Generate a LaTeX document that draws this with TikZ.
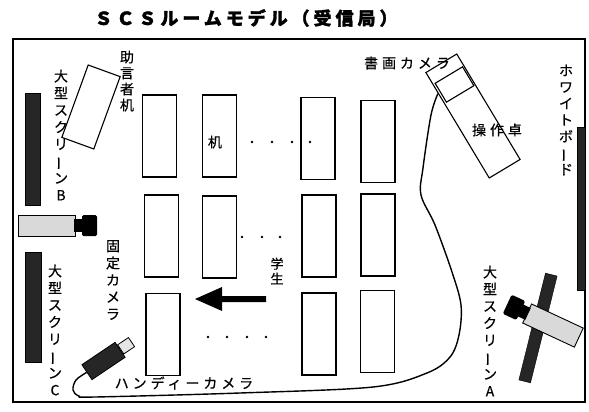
\documentclass[tikz,border=0pt]{standalone}
\usepackage{graphicx}
\usepackage{fontspec}
\setmainfont[FakeBold=0.6]{Noto Sans CJK JP}
\newfontfamily\jpwide[LetterSpace=28, FakeBold=0.6]{Noto Sans CJK JP}
\newfontfamily\jptitle[LetterSpace=22, FakeBold=1.5]{Noto Sans CJK JP}
\usetikzlibrary{calc}
% long vowel mark set upright in vertical text
\newcommand\tatebar{\rotatebox[origin=c]{90}{ー}}
\begin{document}
\begin{tikzpicture}[x=1pt,y=-1pt,
  roomframe/.style={draw, line width=1.5pt},
  desk/.style={draw, line width=1.1pt, minimum width=34pt, minimum height=82pt, inner sep=0pt},
  screenbar/.style={fill=black!85, draw=black, inner sep=0pt},
  vlabel/.style={align=center, inner sep=0pt, font=\fontsize{14}{17}\selectfont},
  hlabel/.style={inner sep=0pt, font=\jpwide\fontsize{14}{17}\selectfont},
  seatdot/.style={circle, fill=black, inner sep=0pt, minimum size=2.8pt},
  cable/.style={draw, line width=1.4pt, line join=round},
  camera/.pic={
    \draw[fill=black!15, line width=0.9pt] (0,-10.5) rectangle (57,10.5);
    \fill (56,-6.5) rectangle (65,6.5);
    \fill[rounded corners=1.5pt] (64,-10.5) rectangle (79,10.5);
  }]
\useasboundingbox (0,0) rectangle (589,412);

% title
\node[inner sep=0pt, font=\jptitle\bfseries\fontsize{18}{20}\selectfont] (title) at (246,18) {ＳＣＳルームモデル（受信局）};

% room outline
\draw[roomframe] (13,39) rectangle (585,402);

% screens and whiteboard
\node[screenbar, minimum width=15pt, minimum height=112pt] (scrB) at (32.5,149) {};
\node[screenbar, minimum width=16pt, minimum height=110pt] (scrC) at (33,307) {};
\node[screenbar, minimum width=8pt, minimum height=163pt] (wboard) at (581,208.5) {};
\node[screenbar, minimum width=12pt, minimum height=110pt, rotate=-14] (scrA) at (538,328) {};

% cameras
\pic at (18,225.5) {camera};
\pic[rotate=155] at (578.8,337.6) {camera};
\node[draw, fill=black!85, line width=0.8pt, minimum width=40pt, minimum height=18pt, inner sep=0pt, rotate=34] (hcam) at (103.5,361) {};
\node[draw, fill=black!10, line width=0.8pt, minimum width=13pt, minimum height=11pt, inner sep=0pt, rotate=34, anchor=west] (hlens) at (hcam.east) {};

% advisor desk and control desk
\node[desk, minimum width=34pt, minimum height=77pt, rotate=-20] (adv) at (91,107) {};
\node[desk, minimum width=36pt, minimum height=123pt, rotate=31] (ctrl) at (473,116) {};
\node[draw, line width=1.1pt, minimum width=32pt, minimum height=22pt, inner sep=0pt, rotate=31] (doccam) at (454.5,84.5) {};

% student desks
\node[desk] (d11) at (159.5,136) {};
\node[desk] (d12) at (219.5,136) {};
\node[desk] (d13) at (318,138.5) {};
\node[desk] (d14) at (378,141.5) {};
\node[desk] (d21) at (161.5,236) {};
\node[desk] (d22) at (219.5,237) {};
\node[desk] (d23) at (319,236) {};
\node[desk] (d24) at (378,235) {};
\node[desk] (d31) at (163,334.5) {};
\node[desk] (d33) at (319,334) {};
\node[desk] (d34) at (377.5,331.5) {};

% continuation dots
\foreach \x [count=\i] in {252,272,292,310} \node[seatdot] (ra\i) at (\x,142) {};
\foreach \x [count=\i] in {242,262,280} \node[seatdot] (rb\i) at (\x,237) {};
\foreach \x [count=\i] in {208,227,247,266} \node[seatdot] (rc\i) at (\x,337) {};

% direction arrow
\fill (266,296) -- (222,296) -- (222,287) -- (195,299) -- (222,311) -- (222,302) -- (266,302) -- cycle;

% cable from the handy camera to the control desk
\coordinate (cabend) at ($(ctrl.north west)!0.2!(ctrl.south west)$);
\draw[cable] plot[smooth, tension=0.55] coordinates {(hcam.west) (76,380) (73,390) (79,396) (95,397) (240,393) (373,387) (427,373) (450,357) (459,335) (461,305) (452,272) (435,225) (421,195) (423,168) (431,115) (cabend)};

% labels
\node[vlabel, font=\fontsize{14}{16}\selectfont] (advlbl) at (127,81) {助\\言\\者\\机};
\node[vlabel] (blbl) at (61,135) {大\\型\\ス\\ク\\リ\\\tatebar\\ン\\B};
\node[vlabel] (camlbl) at (113,280) {固\\定\\カ\\メ\\ラ};
\node[vlabel] (clbl) at (55,330) {大\\型\\ス\\ク\\リ\\\tatebar\\ン\\C};
\node[vlabel] (albl) at (490,331) {大\\型\\ス\\ク\\リ\\\tatebar\\ン\\A};
\node[vlabel, font=\fontsize{14}{16.5}\selectfont] (wblbl) at (566,120) {ホ\\ワ\\イ\\ト\\ボ\\\tatebar\\ド};
\node[vlabel, font=\fontsize{13}{15}\selectfont] (stlbl) at (277,271) {学\\生};
\node[inner sep=0pt, font=\fontsize{14}{17}\selectfont] (desklbl) at (215,142) {机};
\node[hlabel] (doclbl) at (407,63) {書画カメラ};
\node[hlabel] (ctrllbl) at (497,130) {操作卓};
\node[hlabel] (hcamlbl) at (184,383) {ハンディーカメラ};
\end{tikzpicture}
\end{document}
